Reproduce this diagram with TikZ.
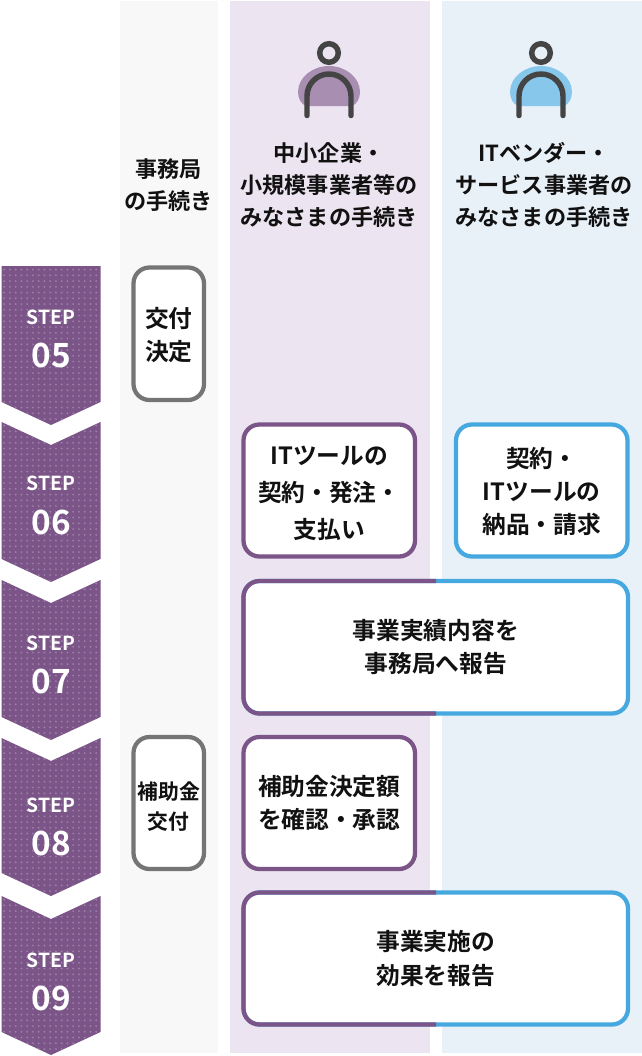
\documentclass[tikz,border=0pt]{standalone}
\usepackage{fontspec}
\setmainfont{Noto Sans CJK JP}[BoldFont={Noto Sans CJK JP Bold}]
\definecolor{pur}{HTML}{7B5488}
\definecolor{purdot}{HTML}{9C7EA8}
\definecolor{blu}{HTML}{45A9E0}
\definecolor{gra}{HTML}{757575}
\definecolor{colg}{HTML}{F8F8F8}
\definecolor{colp}{HTML}{ECE4F0}
\definecolor{colb}{HTML}{E8F0F8}
\definecolor{icon}{HTML}{444444}
\definecolor{txt}{HTML}{111111}
\tikzset{
 boxn/.style={draw,line width=3.2pt,fill=white,rounded corners=12pt,inner sep=0,outer sep=0,align=center,font=\fontsize{17.8pt}{25pt}\selectfont\bfseries,text=txt},
 boxt/.style={inner sep=0,align=center,text=txt,font=\fontsize{17.8pt}{25pt}\selectfont\bfseries},
 smallt/.style={inner sep=0,align=center,text=txt,font=\fontsize{15.6pt}{22pt}\selectfont\bfseries},
 head/.style={align=center,inner sep=0,font=\fontsize{16.6pt}{24pt}\selectfont\bfseries,text=txt},
 stepn/.style={text=white,inner sep=0,font=\fontsize{14.5pt}{17pt}\selectfont\bfseries},
 numn/.style={text=white,inner sep=0,font=\fontsize{25pt}{28pt}\selectfont\bfseries},
}
\newcommand{\wbox}[9]{% name,x1,y1,x2,y2,colour,text,text centre y offset,text style
 \node[boxn,draw=#6,minimum width={(#4-#2)*0.75pt},minimum height={(#5-#3)*0.75pt}] (#1) at ({(#2+#4)/2},{(#3+#5)/2}) {};
 \node[#9] (#1t) at ([yshift={-(#8)*0.75pt}]#1.center) {#7};}
\newcommand{\splitbox}[6]{% name,x1,y1,x2,y2,text
 \node[boxn,draw=blu,minimum width={(#4-#2)*0.75pt},minimum height={(#5-#3)*0.75pt}] (#1) at ({(#2+#4)/2},{(#3+#5)/2}) {#6};
 \begin{scope}
  \clip (#2-5,#3-5) rectangle (436,#5+5);
  \draw[pur,line width=3.2pt,rounded corners=12pt] (#1.north west) rectangle (#1.south east);
 \end{scope}}
\newcommand{\chev}[7]{% name,top,sidebottom,label,notch flag,step y,number y
 \begin{scope}
  \clip (1.5,#2) -- (51,#2+23*#5) -- (100.5,#2) -- (100.5,#3) -- (51,#3+23) -- (1.5,#3) -- cycle;
  \fill[pur] (0,#2-1) rectangle (102,#3+24);
  \foreach \r in {0,...,30}{\foreach \c in {0,...,17}{
    \fill[purdot] ({4.2+5.75*\c},{#2+3.5+5.75*\r}) circle (1.05);}}
 \end{scope}
 \node[stepn] (#1s) at (51,#6) {STEP};
 \node[numn] (#1n) at (51,#7) {#4};}
\newcommand{\person}[2]{% x centre, colour
 \fill[#2] (#1-22,106) -- (#1+22,106) .. controls (#1+28,105) and (#1+31,98) .. (#1+31,92)
   .. controls (#1+31,77) and (#1+16,66) .. (#1,66) .. controls (#1-16,66) and (#1-31,77) .. (#1-31,92)
   .. controls (#1-31,98) and (#1-28,105) .. (#1-22,106) -- cycle;
 \draw[icon,line width=4.1pt] (#1,53) circle (9.3);
 \draw[icon,line width=4.1pt,line cap=round] (#1-22,115.5) -- (#1-22,96) arc[start angle=180,end angle=360,radius=22] -- (#1+22,115.5);}
\begin{document}
\begin{tikzpicture}[x=0.75pt,y=-0.75pt]
\useasboundingbox (0,0) rectangle (642,1056);
\fill[white] (0,0) rectangle (642,1056);
\fill[colg] (120,1) rectangle (217.5,1053);
\fill[colp] (230,1) rectangle (430,1053);
\fill[colb] (442,1) rectangle (642,1053);
\person{329}{colp!40!pur}
\person{541}{blu!65!white}
\node[head] (hg) at (168.5,185) {事務局\\の手続き};
\node[head] (hp) at (329,185) {中小企業・\\小規模事業者等の\\みなさまの手続き};
\node[head] (hb) at (544,185) {ITベンダー・\\サービス事業者の\\みなさまの手続き};
\chev{s5}{266}{402}{05}{0}{317}{355}
\chev{s6}{422}{559}{06}{1}{483}{522}
\chev{s7}{580}{717}{07}{1}{643}{681}
\chev{s8}{738}{873}{08}{1}{805}{843}
\chev{s9}{896}{1032}{09}{1}{960}{998}
\wbox{b1}{133.5}{267.5}{204}{400}{gra}{交付\\決定}{1}{boxt}
\wbox{b2}{243.5}{424.5}{415}{556.5}{pur}{ITツールの\\[3pt]契約・発注・\\[3pt]支払い}{3}{boxt}
\wbox{b3}{456}{424.5}{627.5}{556.5}{blu}{契約・\\ITツールの\\納品・請求}{1}{boxt}
\splitbox{b4}{243.5}{581}{628}{713.5}{事業実績内容を\\事務局へ報告}
\wbox{b5}{133.5}{737}{204}{869}{gra}{補助金\\交付}{3.5}{smallt}
\wbox{b6}{243.5}{737}{415}{869}{pur}{補助金決定額\\を確認・承認}{0}{boxt}
\splitbox{b7}{243.5}{892.5}{628}{1024.5}{事業実施の\\効果を報告}
\end{tikzpicture}
\end{document}
